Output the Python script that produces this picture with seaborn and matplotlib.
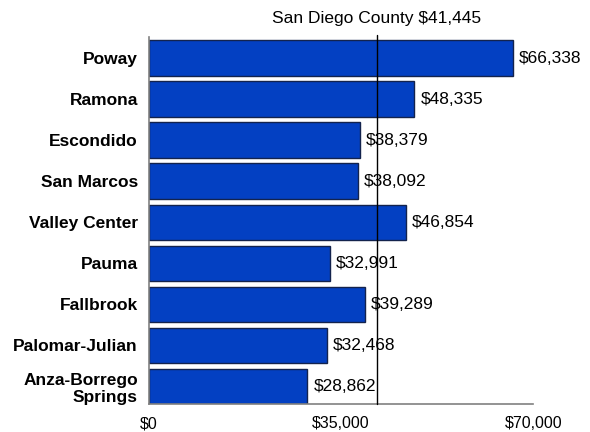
import matplotlib
matplotlib.use("Agg")
import matplotlib.pyplot as plt
import seaborn as sns
import pandas as pd
from matplotlib.ticker import FuncFormatter

communities = ["Poway", "Ramona", "Escondido", "San Marcos", "Valley Center",
               "Pauma", "Fallbrook", "Palomar-Julian", "Anza-Borrego\nSprings"]
income = [66338, 48335, 38379, 38092, 46854, 32991, 39289, 32468, 28862]
county_label = "San Diego County"
county_value = 41445
x_ticks = [0, 35000, 70000]

sns.set_theme(style="white")
plt.rcParams["font.family"] = ["Liberation Sans", "DejaVu Sans"]

df = pd.DataFrame({"community": communities, "income": income})

W, H = 590, 432
left, right, top, bottom = 149, 533.3, 37.5, 404
fig = plt.figure(figsize=(W / 100, H / 100), dpi=100)
ax = fig.add_axes([left / W, 1 - bottom / H, (right - left) / W, (bottom - top) / H])

sns.barplot(data=df, x="income", y="community", orient="h", color="#0340C2",
            saturation=1, width=0.86, edgecolor="#13234d", linewidth=1.0, ax=ax)

ax.set_xlim(0, 70000)
ax.set_ylim(len(communities) - 1 + 0.43, -0.5)
ax.set_xticks(x_ticks)
ax.xaxis.set_major_formatter(FuncFormatter(lambda v, p: f"${v:,.0f}"))
ax.set_xlabel("")
ax.set_ylabel("")

for s in ["top", "right"]:
    ax.spines[s].set_visible(False)
for s in ["left", "bottom"]:
    ax.spines[s].set_color("#808080")
    ax.spines[s].set_linewidth(1.2)

ax.tick_params(axis="x", direction="in", length=4, color="#808080", labelsize=11.5,
               pad=9, labelcolor="black")
ax.tick_params(axis="y", length=0, labelsize=12.5, pad=8, labelcolor="black")
for lbl in ax.get_yticklabels():
    lbl.set_fontweight("bold")
    lbl.set_horizontalalignment("right")
    lbl.set_multialignment("right")
    lbl.set_linespacing(1.2)

for i, v in enumerate(income):
    ax.annotate(f"${v:,}", xy=(v, i), xytext=(4.3, 0), textcoords="offset points",
                va="center", ha="left", fontsize=12.5, color="black")

ax.axvline(county_value, ymin=0, ymax=1.006, color="black", linewidth=1.0,
           clip_on=False, zorder=5)
ax.annotate(f"{county_label} ${county_value:,}", xy=(county_value, -0.5),
            xytext=(0, 8), textcoords="offset points", ha="center", va="bottom",
            fontsize=12.5, color="black")

fig.savefig("out.png", dpi=100)
